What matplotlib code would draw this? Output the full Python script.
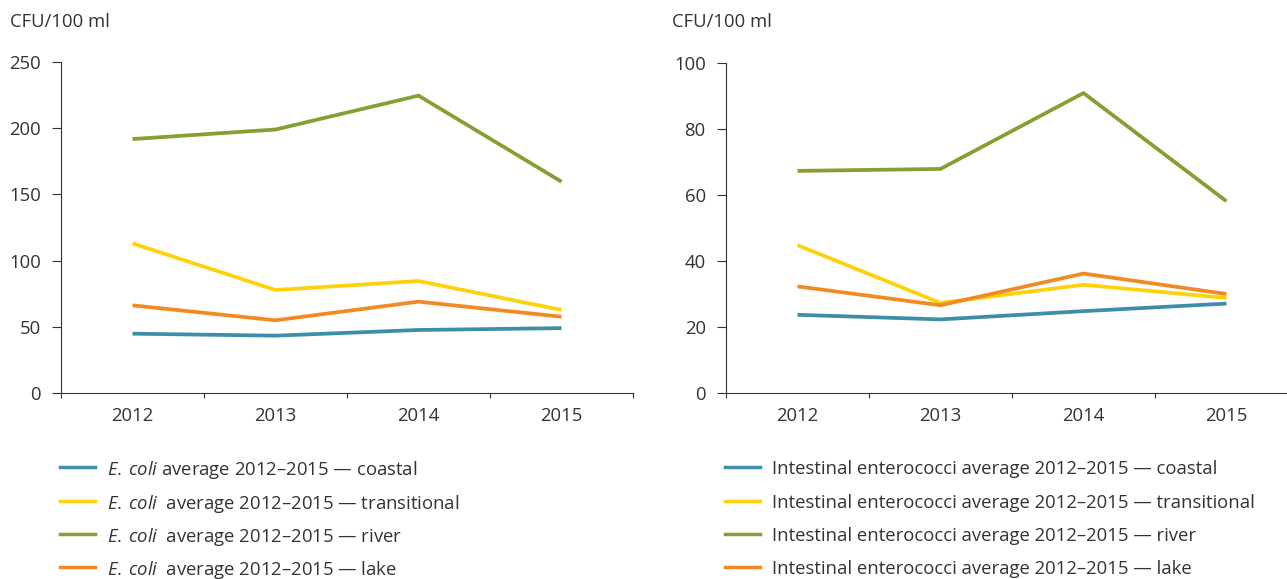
import matplotlib.pyplot as plt
from matplotlib.lines import Line2D

plt.rcParams["font.family"] = ["Open Sans", "DejaVu Sans"]
plt.rcParams["mathtext.fontset"] = "custom"
plt.rcParams["mathtext.rm"] = "Open Sans"
plt.rcParams["mathtext.it"] = "Open Sans:italic"

years = ["2012", "2013", "2014", "2015"]
water_types = ["coastal", "transitional", "river", "lake"]
colors = ["#3d8ea8", "#fdd20a", "#84a033", "#f28a24"]

# E. coli, CFU/100 ml
ecoli_coastal = [44.8, 43.3, 47.6, 49.0]
ecoli_transitional = [113.0, 77.8, 84.6, 62.7]
ecoli_river = [191.8, 199.0, 224.6, 159.6]
ecoli_lake = [66.2, 54.9, 69.0, 57.6]

# Intestinal enterococci, CFU/100 ml
ent_coastal = [23.7, 22.3, 24.8, 27.1]
ent_transitional = [44.8, 27.3, 32.8, 28.8]
ent_river = [67.3, 67.9, 90.9, 58.1]
ent_lake = [32.3, 26.6, 36.2, 30.0]

ecoli_labels = [
    r"$\it{E.\:coli}$ average 2012–2015 — coastal",
    r"$\it{E.\:coli}$  average 2012–2015 — transitional",
    r"$\it{E.\:coli}$  average 2012–2015 — river",
    r"$\it{E.\:coli}$  average 2012–2015 — lake",
]
ent_labels = ["Intestinal enterococci average 2012–2015 — " + w for w in water_types]

text_color = "#333333"
fs = 13.3
W, H = 1287, 579


def draw_panel(ax, series, ymax, step):
    x = range(len(years))
    for values, color in zip(series, colors):
        ax.plot(x, values, color=color, linewidth=2.7, solid_capstyle="butt")
    ax.set_xlim(-0.5, len(years) - 0.5)
    ax.set_ylim(0, ymax)
    ax.set_yticks(range(0, ymax + 1, step))
    ax.set_xticks([i - 0.5 for i in range(len(years) + 1)])
    ax.set_xticklabels([])
    ax.set_xticks(list(x), minor=True)
    ax.set_xticklabels(years, minor=True)
    ax.tick_params(axis="x", which="major", length=3.5, width=0.8,
                   color=text_color, direction="out")
    ax.tick_params(axis="x", which="minor", length=0, pad=10,
                   labelsize=fs, labelcolor=text_color)
    ax.tick_params(axis="y", length=6.5, width=0.8, color=text_color,
                   labelsize=fs, labelcolor=text_color, pad=8)
    for side in ["top", "right"]:
        ax.spines[side].set_visible(False)
    for side in ["left", "bottom"]:
        ax.spines[side].set_color(text_color)
        ax.spines[side].set_linewidth(0.8)


def draw_legend(fig, labels, x_line, x_text):
    rows = [467, 501, 534, 567]
    for label, color, y in zip(labels, colors, rows):
        fy = 1 - y / H
        fig.add_artist(Line2D([x_line / W, (x_line + 35) / W], [fy, fy],
                              color=color, linewidth=2.5,
                              transform=fig.transFigure))
        fig.text(x_text / W, fy, label, fontsize=fs, color=text_color,
                 va="center_baseline", ha="left")


fig = plt.figure(figsize=(W / 100, H / 100), dpi=100)
ax1 = fig.add_axes([61 / W, 1 - 393 / H, 572 / W, 331 / H])
ax2 = fig.add_axes([726 / W, 1 - 393 / H, 572 / W, 330 / H])

draw_panel(ax1, [ecoli_coastal, ecoli_transitional, ecoli_river, ecoli_lake],
           250, 50)
draw_panel(ax2, [ent_coastal, ent_transitional, ent_river, ent_lake],
           100, 20)

draw_legend(fig, ecoli_labels, 60, 107)
draw_legend(fig, ent_labels, 725, 772)

fig.text(10 / W, 1 - 22 / H, "CFU/100 ml", fontsize=fs,
         color=text_color, va="center", ha="left")
fig.text(672 / W, 1 - 22 / H, "CFU/100 ml", fontsize=fs,
         color=text_color, va="center", ha="left")

fig.savefig("out.png", dpi=100)
